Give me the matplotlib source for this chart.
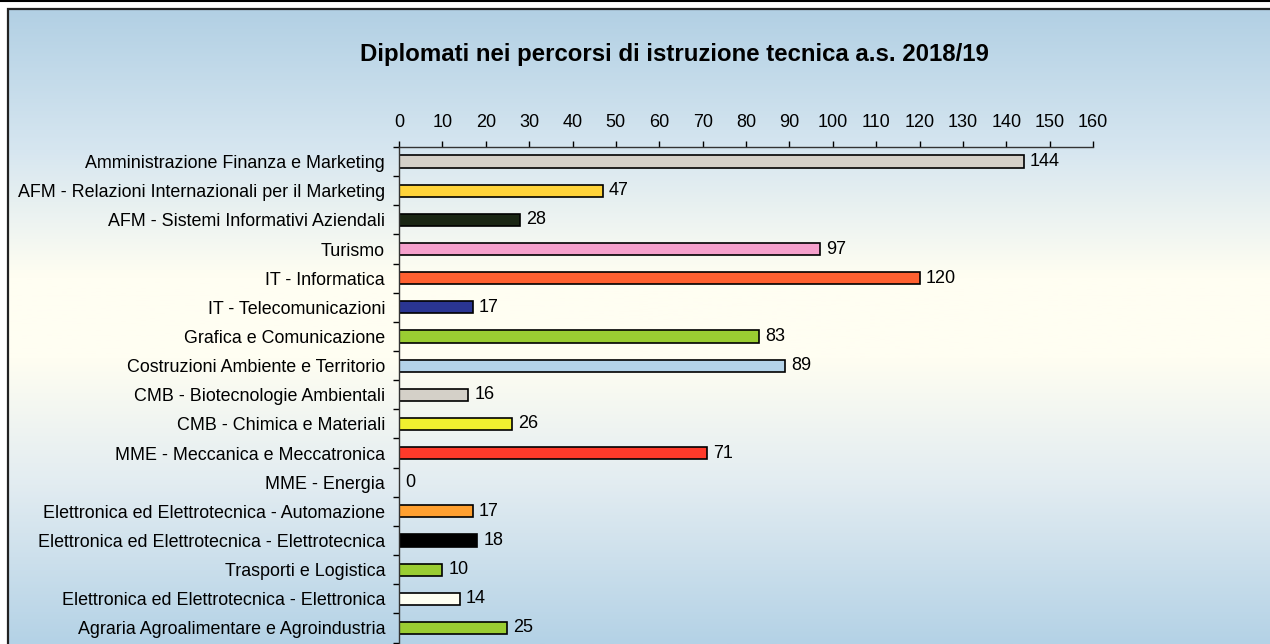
import matplotlib.pyplot as plt
import numpy as np
from matplotlib.colors import LinearSegmentedColormap
from matplotlib.patches import Rectangle

plt.rcParams['font.family'] = ['Liberation Sans', 'DejaVu Sans']

categories = [
    "Amministrazione Finanza e Marketing",
    "AFM - Relazioni Internazionali per il Marketing",
    "AFM - Sistemi Informativi Aziendali",
    "Turismo",
    "IT - Informatica",
    "IT - Telecomunicazioni",
    "Grafica e Comunicazione",
    "Costruzioni Ambiente e Territorio",
    "CMB - Biotecnologie Ambientali",
    "CMB - Chimica e Materiali",
    "MME - Meccanica e Meccatronica",
    "MME - Energia",
    "Elettronica ed Elettrotecnica - Automazione",
    "Elettronica ed Elettrotecnica - Elettrotecnica",
    "Trasporti e Logistica",
    "Elettronica ed Elettrotecnica - Elettronica",
    "Agraria Agroalimentare e Agroindustria",
]
values = [144, 47, 28, 97, 120, 17, 83, 89, 16, 26, 71, 0, 17, 18, 10, 14, 25]
bar_colors = ["#d4d0c8", "#ffd43a", "#1a2614", "#f5a0cc", "#ff6030", "#2a3592",
              "#9acd32", "#b4d3e8", "#d4d0c8", "#f0f030", "#ff3a2a", "#ffffff",
              "#ffa030", "#000000", "#9acd32", "#fffff2", "#9acd32"]
title = "Diplomati nei percorsi di istruzione tecnica a.s. 2018/19"

W, H = 1270, 644
fig = plt.figure(figsize=(W / 100, H / 100), dpi=100)
fig.patch.set_facecolor("white")

# gradient background inside the frame
bg = fig.add_axes([8 / W, 0, 1 - 8 / W, (H - 9) / H], zorder=-2)
cmap = LinearSegmentedColormap.from_list(
    "bg", [(0.0, "#b2d0e4"), (0.22, "#d6e6f0"), (0.42, "#fffef2"),
           (0.55, "#fffef2"), (0.75, "#e2ecf1"), (1.0, "#b4d2e6")])
grad = np.linspace(0, 1, 256).reshape(-1, 1)
bg.imshow(grad, aspect="auto", cmap=cmap, extent=[0, 1, 0, 1], origin="upper")
bg.set_axis_off()

fig.add_artist(Rectangle((8 / W, -0.1), 1.1, (H - 9) / H + 0.1,
                         transform=fig.transFigure, fill=False,
                         edgecolor="#222222", linewidth=1.6, zorder=-1))
fig.add_artist(plt.Line2D([0, 1], [1 - 1 / H, 1 - 1 / H], transform=fig.transFigure,
                          color="black", linewidth=1.5))

ax = fig.add_axes([399 / W, 0, 694 / W, 1 - 147 / H])
ax.patch.set_alpha(0)
y = np.arange(len(categories))
ax.barh(y, values, height=0.42, color=bar_colors, edgecolor="black", linewidth=1.2)
for yi, v in zip(y, values):
    ax.text(v + 1.4, yi, str(v), va="center", ha="left", fontsize=13)

ax.set_xlim(0, 160)
ax.set_ylim(16.55, -0.5)
ax.set_xticks(np.arange(0, 161, 10))
ax.xaxis.tick_top()
ax.tick_params(axis="x", direction="out", length=4, width=1, pad=7.5, labelsize=13)
ax.set_yticks(y)
ax.set_yticklabels(categories)
ax.set_yticks(np.arange(-0.5, 17, 1), minor=True)
ax.tick_params(axis="y", which="major", length=0, pad=10, labelsize=12.9)
ax.tick_params(axis="y", which="minor", direction="out", length=4, width=1)
for s in ["right", "bottom"]:
    ax.spines[s].set_visible(False)
for s in ["left", "top"]:
    ax.spines[s].set_color("#333333")
    ax.spines[s].set_linewidth(1)

fig.text(674 / W, 1 - 55 / H, title, ha="center", va="center", fontsize=17.3, fontweight="bold")

fig.savefig("out.png", dpi=100)
